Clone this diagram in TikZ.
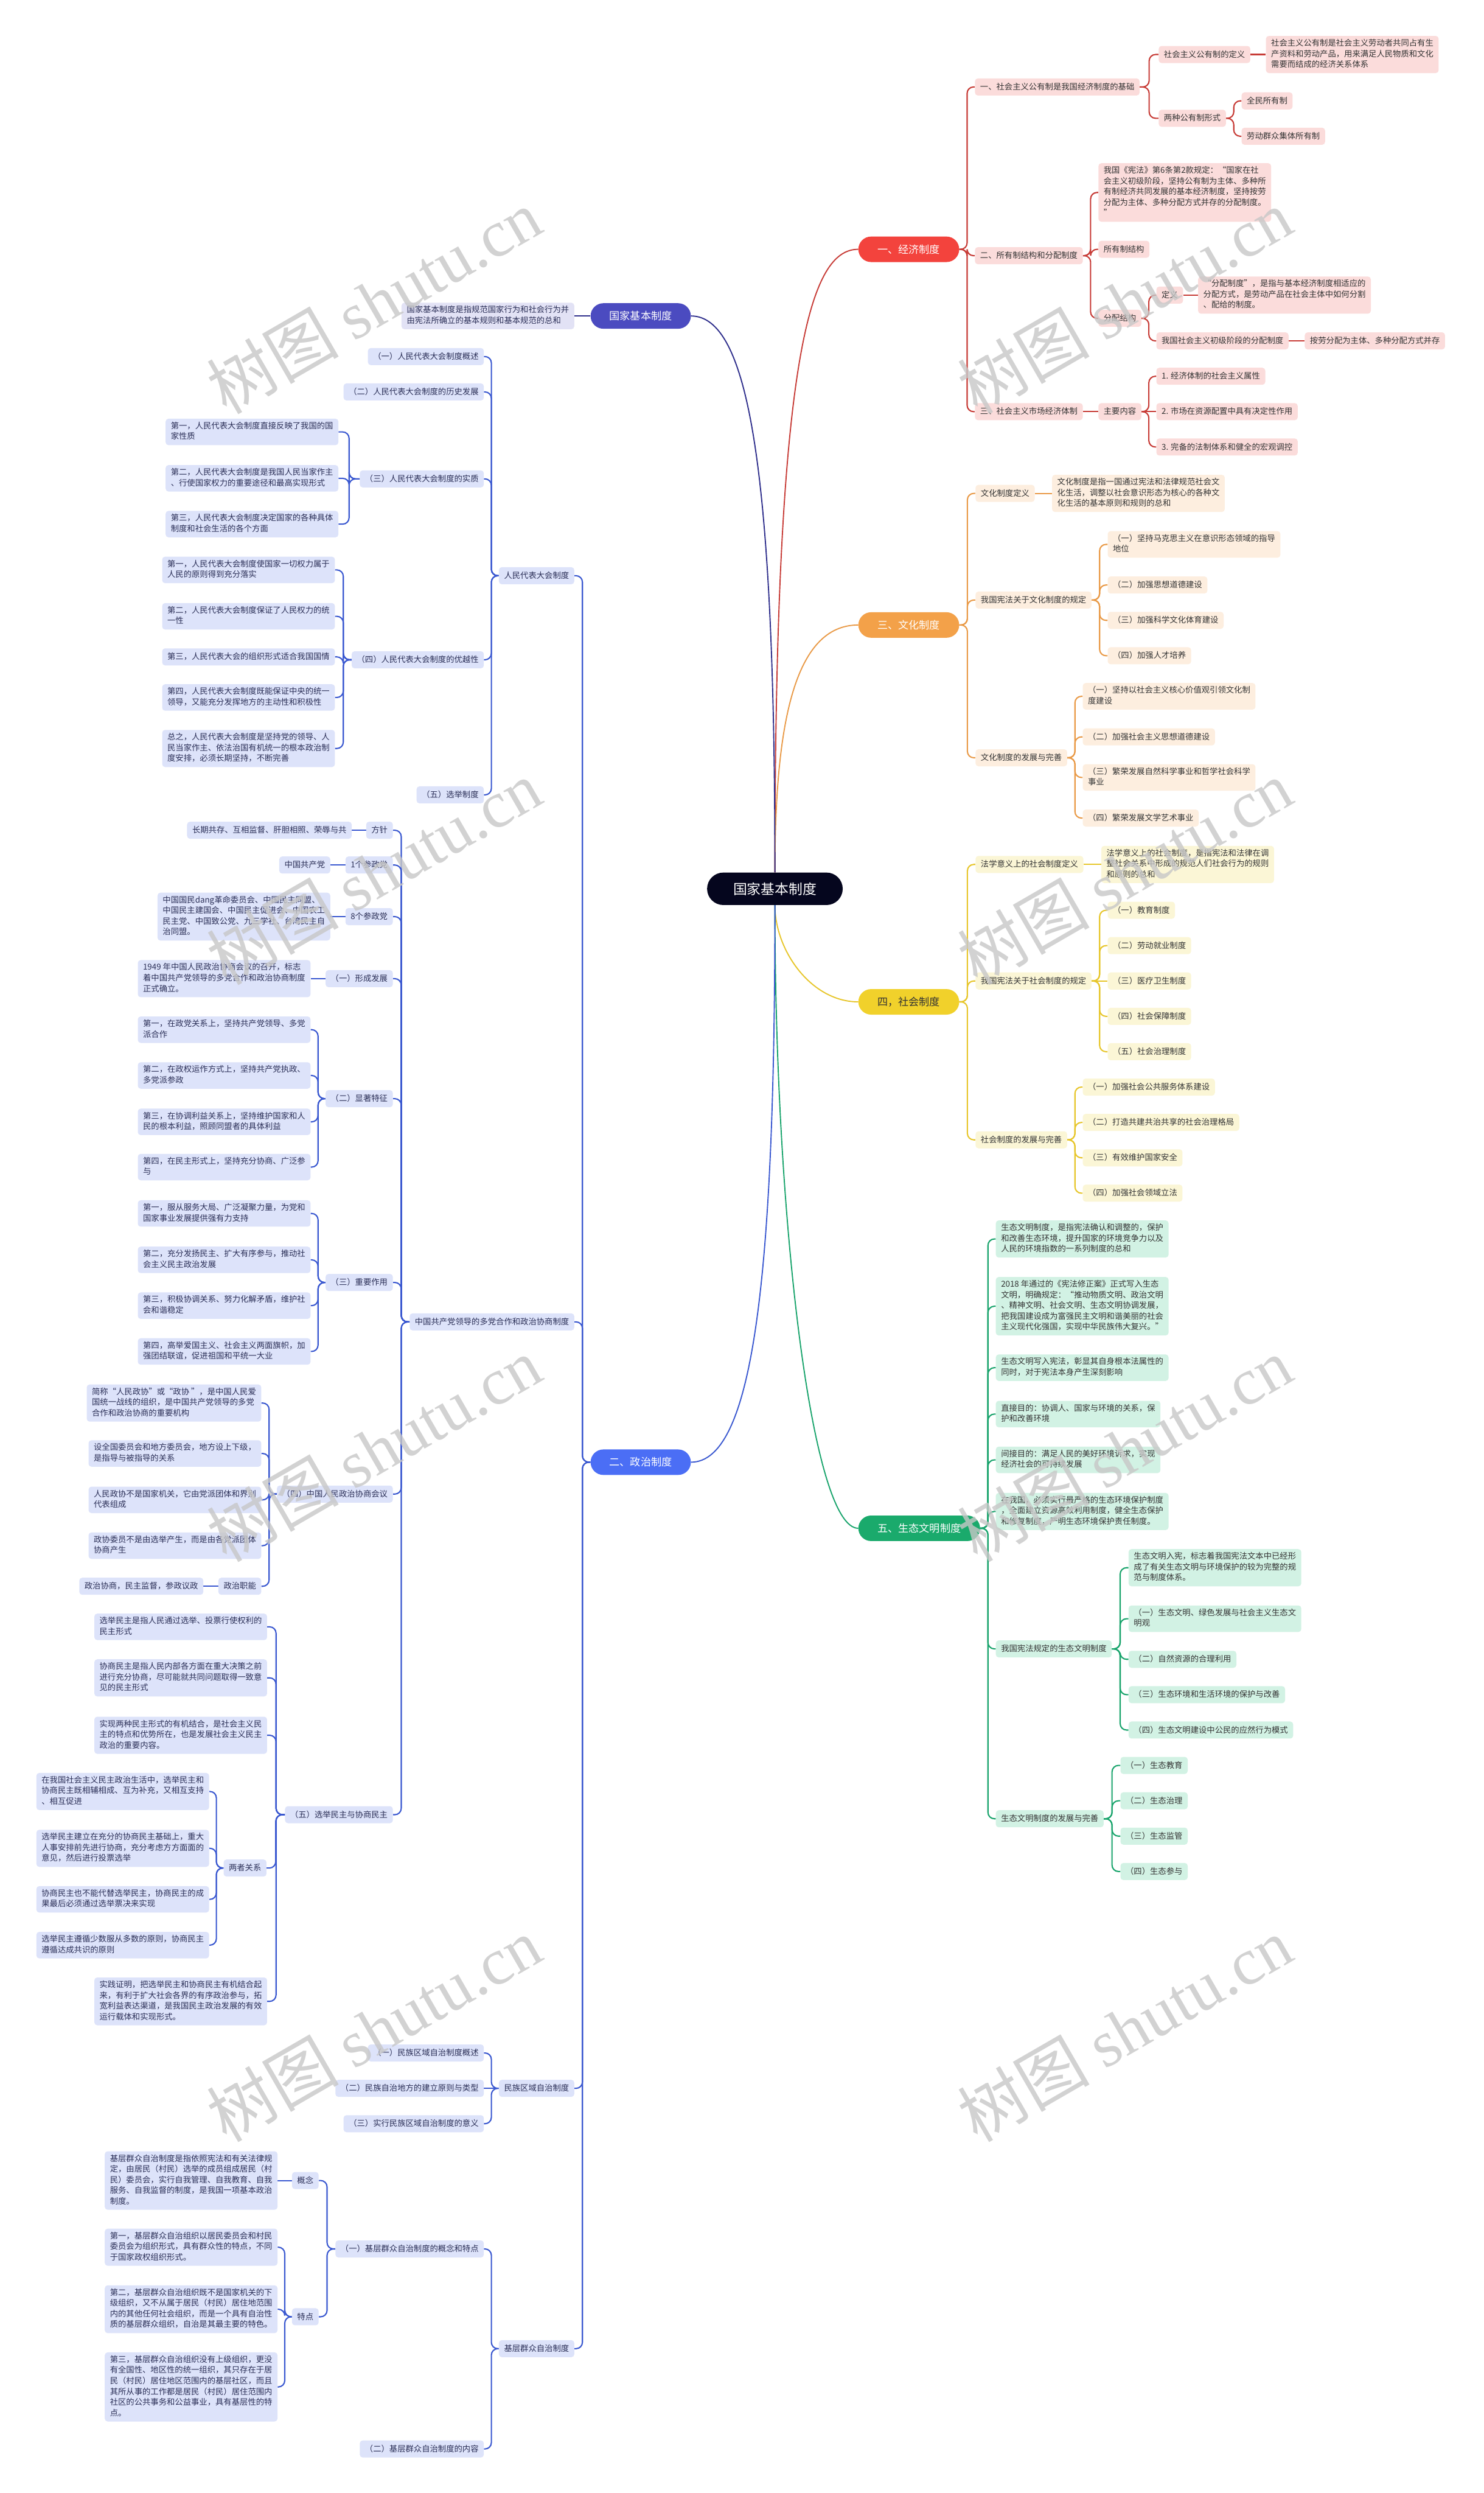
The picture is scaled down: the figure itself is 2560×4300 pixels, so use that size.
\documentclass[tikz,border=0pt]{standalone}
\usepackage{fontspec}
\setmainfont{Noto Sans CJK SC}
\newfontfamily\wmserif{Liberation Serif}
\usetikzlibrary{calc}
\pgfdeclarelayer{bg}
\pgfsetlayers{bg,main}
\definecolor{rootC}{HTML}{05061E}
\definecolor{redN}{HTML}{F3433D}
\definecolor{redL}{HTML}{C73B36}
\definecolor{redF}{HTML}{FBDCDB}
\definecolor{orN}{HTML}{F3A149}
\definecolor{orL}{HTML}{E99A47}
\definecolor{orF}{HTML}{FDEEDF}
\definecolor{yeN}{HTML}{F1D12B}
\definecolor{yeL}{HTML}{E7C62B}
\definecolor{yeF}{HTML}{FBF6D6}
\definecolor{grN}{HTML}{1AAA6C}
\definecolor{grL}{HTML}{19A46C}
\definecolor{grF}{HTML}{D2F2E4}
\definecolor{blN}{HTML}{4B6EF5}
\definecolor{blL}{HTML}{3A58D0}
\definecolor{blF}{HTML}{DDE3FA}
\definecolor{puN}{HTML}{4B4BC0}
\definecolor{puL}{HTML}{2F2F8C}
\definecolor{puF}{HTML}{E2E2F5}
\definecolor{txt}{HTML}{333333}
\definecolor{btxt}{HTML}{2B2F57}
\newcommand{\zs}{\rule[-4.4pt]{0pt}{18.4pt}}
\newcommand{\conR}[3]{\draw[#1] (#2.east) -- ($(#2.east)!0.5!(#3.west |- #2.east)$) |- (#3.west);}
\newcommand{\conL}[3]{\draw[#1] (#2.west) -- ($(#2.west)!0.5!(#3.east |- #2.west)$) |- (#3.east);}
\newcommand{\conSR}[3]{\draw[#1] (#2.east) -- (#3.west);}
\newcommand{\conSL}[3]{\draw[#1] (#2.west) -- (#3.east);}
\tikzset{
 box/.style={rounded corners=5pt, inner xsep=9pt, inner ysep=5.5pt, align=left, text=txt,
   font=\fontsize{14pt}{18.4pt}\selectfont, execute at begin node=\zs, execute at end node=\zs},
 rbox/.style={box, fill=redF, anchor=west},
 obox/.style={box, fill=orF, anchor=west},
 ybox/.style={box, fill=yeF, anchor=west},
 gbox/.style={box, fill=grF, anchor=west},
 bbox/.style={box, fill=blF, anchor=east, text=btxt},
 pbox/.style={box, fill=puF, anchor=east, text=btxt},
 topnode/.style={rounded corners=22pt, minimum height=44pt, inner sep=0pt, text=white,
   font=\fontsize{18pt}{22pt}\selectfont},
 rootnode/.style={rounded corners=28pt, minimum height=56pt, minimum width=234pt, inner sep=0pt,
   fill=rootC, text=white, font=\fontsize{24pt}{28pt}\selectfont},
 lnk/.style={line width=2.2pt, rounded corners=11pt},
 rl/.style={lnk, draw=redL}, ol/.style={lnk, draw=orL}, yl/.style={lnk, draw=yeL},
 gl/.style={lnk, draw=grL}, bll/.style={lnk, draw=blL}, pl/.style={lnk, draw=puL},
 curve/.style={line width=2pt},
 wm/.style={rotate=30, text=black!22, opacity=0.8, inner sep=0pt,
   font=\fontsize{114pt}{114pt}\selectfont}
}
\begin{document}
\begin{tikzpicture}[x=1pt,y=-1pt]
\useasboundingbox (0,0) rectangle (2560,4300);
\begin{pgfonlayer}{bg}
\fill[white] (0,0) rectangle (2560,4300);
\end{pgfonlayer}

% root and top level
\node[rootnode] (root) at (1337,1533) {国家基本制度};
\node[topnode, fill=redN, minimum width=174pt] (econ) at (1568,430) {一、经济制度};
\node[topnode, fill=orN, minimum width=174pt] (cult) at (1568,1078) {三、文化制度};
\node[topnode, fill=yeN, minimum width=174pt, text=txt] (soc) at (1568,1728) {四，社会制度};
\node[topnode, fill=grN, minimum width=210pt] (eco) at (1586,2636) {五、生态文明制度};
\node[topnode, fill=puN, minimum width=173pt] (basic) at (1105.5,545) {国家基本制度};
\node[topnode, fill=blN, minimum width=173pt] (pol) at (1105.5,2522) {二、政治制度};

% purple
\node[pbox] (basicdef) at (991,545) {国家基本制度是指规范国家行为和社会行为并\\由宪法所确立的基本规则和基本规范的总和};

% red
\node[rbox] (e1) at (1682,150) {一、社会主义公有制是我国经济制度的基础};
\node[rbox] (e1a) at (1999,94) {社会主义公有制的定义};
\node[rbox] (e1a1) at (2184,94) {社会主义公有制是社会主义劳动者共同占有生\\产资料和劳动产品，用来满足人民物质和文化\\需要而结成的经济关系体系};
\node[rbox] (e1b) at (1999,204) {两种公有制形式};
\node[rbox] (e1b1) at (2142,174) {全民所有制};
\node[rbox] (e1b2) at (2142,235) {劳动群众集体所有制};
\node[rbox] (e2) at (1682,441) {二、所有制结构和分配制度};
\node[rbox] (e2a) at (1895,332) {我国《宪法》第6条第2款规定：“国家在社\\会主义初级阶段，坚持公有制为主体、多种所\\有制经济共同发展的基本经济制度，坚持按劳\\分配为主体、多种分配方式并存的分配制度。\\”};
\node[rbox] (e2b) at (1895,430) {所有制结构};
\node[rbox] (e2c) at (1895,549) {分配结构};
\node[rbox] (e2c1) at (1995,509) {定义};
\node[rbox] (e2c1a) at (2067,509) {“分配制度”，是指与基本经济制度相适应的\\分配方式，是劳动产品在社会主体中如何分割\\、配给的制度。};
\node[rbox] (e2c2) at (1995,588) {我国社会主义初级阶段的分配制度};
\node[rbox] (e2c2a) at (2251,588) {按劳分配为主体、多种分配方式并存};
\node[rbox] (e3) at (1682,710) {三、社会主义市场经济体制};
\node[rbox] (e3a) at (1895,710) {主要内容};
\node[rbox] (e3a1) at (1995,649) {1. 经济体制的社会主义属性};
\node[rbox] (e3a2) at (1995,710) {2. 市场在资源配置中具有决定性作用};
\node[rbox] (e3a3) at (1995,771) {3. 完备的法制体系和健全的宏观调控};

% orange
\node[obox] (c1) at (1683,851) {文化制度定义};
\node[obox] (c1a) at (1815,851) {文化制度是指一国通过宪法和法律规范社会文\\化生活，调整以社会意识形态为核心的各种文\\化生活的基本原则和规则的总和};
\node[obox] (c2) at (1683,1035) {我国宪法关于文化制度的规定};
\node[obox] (c2a) at (1911,939) {（一）坚持马克思主义在意识形态领域的指导\\地位};
\node[obox] (c2b) at (1911,1009) {（二）加强思想道德建设};
\node[obox] (c2c) at (1911,1070) {（三）加强科学文化体育建设};
\node[obox] (c2d) at (1911,1131) {（四）加强人才培养};
\node[obox] (c3) at (1683,1307) {文化制度的发展与完善};
\node[obox] (c3a) at (1868,1201) {（一）坚持以社会主义核心价值观引领文化制\\度建设};
\node[obox] (c3b) at (1868,1271) {（二）加强社会主义思想道德建设};
\node[obox] (c3c) at (1868,1341) {（三）繁荣发展自然科学事业和哲学社会科学\\事业};
\node[obox] (c3d) at (1868,1411) {（四）繁荣发展文学艺术事业};

% yellow
\node[ybox] (s1) at (1683,1491) {法学意义上的社会制度定义};
\node[ybox] (s1a) at (1900,1491) {法学意义上的社会制度，是指宪法和法律在调\\整社会关系中形成的规范人们社会行为的规则\\和原则的总和};
\node[ybox] (s2) at (1683,1692) {我国宪法关于社会制度的规定};
\node[ybox] (s2a) at (1911,1570) {（一）教育制度};
\node[ybox] (s2b) at (1911,1631) {（二）劳动就业制度};
\node[ybox] (s2c) at (1911,1692) {（三）医疗卫生制度};
\node[ybox] (s2d) at (1911,1753) {（四）社会保障制度};
\node[ybox] (s2e) at (1911,1814) {（五）社会治理制度};
\node[ybox] (s3) at (1683,1966) {社会制度的发展与完善};
\node[ybox] (s3a) at (1868,1875) {（一）加强社会公共服务体系建设};
\node[ybox] (s3b) at (1868,1936) {（二）打造共建共治共享的社会治理格局};
\node[ybox] (s3c) at (1868,1997) {（三）有效维护国家安全};
\node[ybox] (s3d) at (1868,2058) {（四）加强社会领域立法};

% green
\node[gbox] (g1) at (1718,2137) {生态文明制度，是指宪法确认和调整的，保护\\和改善生态环境，提升国家的环境竞争力以及\\人民的环境指数的一系列制度的总和};
\node[gbox] (g2) at (1718,2253) {2018 年通过的《宪法修正案》正式写入生态\\文明，明确规定：“推动物质文明、政治文明\\、精神文明、社会文明、生态文明协调发展，\\把我国建设成为富强民主文明和谐美丽的社会\\主义现代化强国，实现中华民族伟大复兴。”};
\node[gbox] (g3) at (1718,2359) {生态文明写入宪法，彰显其自身根本法属性的\\同时，对于宪法本身产生深刻影响};
\node[gbox] (g4) at (1718,2439) {直接目的：协调人、国家与环境的关系，保\\护和改善环境};
\node[gbox] (g5) at (1718,2518) {间接目的：满足人民的美好环境诉求，实现\\经济社会的可持续发展};
\node[gbox] (g6) at (1718,2607) {在我国，必须实行最严格的生态环境保护制度\\，全面建立资源高效利用制度，健全生态保护\\和修复制度，严明生态环境保护责任制度。};
\node[gbox] (g7) at (1718,2844) {我国宪法规定的生态文明制度};
\node[gbox] (g7a) at (1947,2704) {生态文明入宪，标志着我国宪法文本中已经形\\成了有关生态文明与环境保护的较为完整的规\\范与制度体系。};
\node[gbox] (g7b) at (1947,2792) {（一）生态文明、绿色发展与社会主义生态文\\明观};
\node[gbox] (g7c) at (1947,2862) {（二）自然资源的合理利用};
\node[gbox] (g7d) at (1947,2923) {（三）生态环境和生活环境的保护与改善};
\node[gbox] (g7e) at (1947,2984) {（四）生态文明建设中公民的应然行为模式};
\node[gbox] (g8) at (1718,3137) {生态文明制度的发展与完善};
\node[gbox] (g8a) at (1933,3045) {（一）生态教育};
\node[gbox] (g8b) at (1933,3106) {（二）生态治理};
\node[gbox] (g8c) at (1933,3167) {（三）生态监管};
\node[gbox] (g8d) at (1933,3228) {（四）生态参与};

% blue: level 1
\node[bbox] (p1) at (991,993) {人民代表大会制度};
\node[bbox] (p2) at (991,2280) {中国共产党领导的多党合作和政治协商制度};
\node[bbox] (p3) at (991,3602) {民族区域自治制度};
\node[bbox] (p4) at (991,4051) {基层群众自治制度};

% p1
\node[bbox] (p1a) at (835,615) {（一）人民代表大会制度概述};
\node[bbox] (p1b) at (835,676) {（二）人民代表大会制度的历史发展};
\node[bbox] (p1c) at (835,826) {（三）人民代表大会制度的实质};
\node[bbox] (p1d) at (835,1138) {（四）人民代表大会制度的优越性};
\node[bbox] (p1e) at (835,1371) {（五）选举制度};
\node[bbox] (p1c1) at (584,745) {第一，人民代表大会制度直接反映了我国的国\\家性质};
\node[bbox] (p1c2) at (584,825) {第二，人民代表大会制度是我国人民当家作主\\、行使国家权力的重要途径和最高实现形式};
\node[bbox] (p1c3) at (584,904) {第三，人民代表大会制度决定国家的各种具体\\制度和社会生活的各个方面};
\node[bbox] (p1d1) at (578,983) {第一，人民代表大会制度使国家一切权力属于\\人民的原则得到充分落实};
\node[bbox] (p1d2) at (578,1063) {第二，人民代表大会制度保证了人民权力的统\\一性};
\node[bbox] (p1d3) at (578,1133) {第三，人民代表大会的组织形式适合我国国情};
\node[bbox] (p1d4) at (578,1203) {第四，人民代表大会制度既能保证中央的统一\\领导，又能充分发挥地方的主动性和积极性};
\node[bbox] (p1d5) at (578,1291) {总之，人民代表大会制度是坚持党的领导、人\\民当家作主、依法治国有机统一的根本政治制\\度安排，必须长期坚持，不断完善};

% p2
\node[bbox] (p2a) at (678,1432) {方针};
\node[bbox] (p2a1) at (607,1432) {长期共存、互相监督、肝胆相照、荣辱与共};
\node[bbox] (p2b) at (678,1492) {1个参政党};
\node[bbox] (p2b1) at (570,1492) {中国共产党};
\node[bbox] (p2c) at (678,1581) {8个参政党};
\node[bbox] (p2c1) at (570,1581) {中国国民dang革命委员会、中国民主同盟、\\中国民主建国会、中国民主促进会、中国农工\\民主党、中国致公党、九三学社、台湾民主自\\治同盟。};
\node[bbox] (p2d) at (678,1688) {（一）形成发展};
\node[bbox] (p2d1) at (536,1688) {1949 年中国人民政治协商会议的召开，标志\\着中国共产党领导的多党合作和政治协商制度\\正式确立。};
\node[bbox] (p2e) at (678,1895) {（二）显著特征};
\node[bbox] (p2e1) at (536,1776) {第一，在政党关系上，坚持共产党领导、多党\\派合作};
\node[bbox] (p2e2) at (536,1855) {第二，在政权运作方式上，坚持共产党执政、\\多党派参政};
\node[bbox] (p2e3) at (536,1935) {第三，在协调利益关系上，坚持维护国家和人\\民的根本利益，照顾同盟者的具体利益};
\node[bbox] (p2e4) at (536,2013) {第四，在民主形式上，坚持充分协商、广泛参\\与};
\node[bbox] (p2f) at (678,2212) {（三）重要作用};
\node[bbox] (p2f1) at (536,2093) {第一，服从服务大局、广泛凝聚力量，为党和\\国家事业发展提供强有力支持};
\node[bbox] (p2f2) at (536,2173) {第二，充分发扬民主、扩大有序参与，推动社\\会主义民主政治发展};
\node[bbox] (p2f3) at (536,2252) {第三，积极协调关系、努力化解矛盾，维护社\\会和谐稳定};
\node[bbox] (p2f4) at (536,2331) {第四，高举爱国主义、社会主义两面旗帜，加\\强团结联谊，促进祖国和平统一大业};
\node[bbox] (p2g) at (678,2577) {（四）中国人民政治协商会议};
\node[bbox] (p2g1) at (451,2420) {简称“人民政协”或“政协 ”，是中国人民爱\\国统一战线的组织，是中国共产党领导的多党\\合作和政治协商的重要机构};
\node[bbox] (p2g2) at (451,2507) {设全国委员会和地方委员会，地方设上下级，\\是指导与被指导的关系};
\node[bbox] (p2g3) at (451,2587) {人民政协不是国家机关，它由党派团体和界别\\代表组成};
\node[bbox] (p2g4) at (451,2666) {政协委员不是由选举产生，而是由各党派团体\\协商产生};
\node[bbox] (p2g5) at (451,2736) {政治职能};
\node[bbox] (p2g51) at (351,2736) {政治协商，民主监督，参政议政};
\node[bbox] (p2h) at (678,3130) {（五）选举民主与协商民主};
\node[bbox] (p2h1) at (461,2806) {选举民主是指人民通过选举、投票行使权利的\\民主形式};
\node[bbox] (p2h2) at (461,2894) {协商民主是指人民内部各方面在重大决策之前\\进行充分协商，尽可能就共同问题取得一致意\\见的民主形式};
\node[bbox] (p2h3) at (461,2993) {实现两种民主形式的有机结合，是社会主义民\\主的特点和优势所在，也是发展社会主义民主\\政治的重要内容。};
\node[bbox] (p2h4) at (460,3222) {两者关系};
\node[bbox] (p2h41) at (361,3090) {在我国社会主义民主政治生活中，选举民主和\\协商民主既相辅相成、互为补充，又相互支持\\、相互促进};
\node[bbox] (p2h42) at (361,3188) {选举民主建立在充分的协商民主基础上，重大\\人事安排前先进行协商，充分考虑方方面面的\\意见，然后进行投票选举};
\node[bbox] (p2h43) at (361,3276) {协商民主也不能代替选举民主，协商民主的成\\果最后必须通过选举票决来实现};
\node[bbox] (p2h44) at (361,3355) {选举民主遵循少数服从多数的原则，协商民主\\遵循达成共识的原则};
\node[bbox] (p2h5) at (461,3452) {实践证明，把选举民主和协商民主有机结合起\\来，有利于扩大社会各界的有序政治参与，拓\\宽利益表达渠道，是我国民主政治发展的有效\\运行载体和实现形式。};

% p3
\node[bbox] (p3a) at (835,3541) {（一）民族区域自治制度概述};
\node[bbox] (p3b) at (835,3602) {（二）民族自治地方的建立原则与类型};
\node[bbox] (p3c) at (835,3663) {（三）实行民族区域自治制度的意义};

% p4
\node[bbox] (p4a) at (835,3879) {（一）基层群众自治制度的概念和特点};
\node[bbox] (p4b) at (835,4224) {（二）基层群众自治制度的内容};
\node[bbox] (p4a1) at (550,3761) {概念};
\node[bbox] (p4a11) at (479,3761) {基层群众自治制度是指依照宪法和有关法律规\\定，由居民（村民）选举的成员组成居民（村\\民）委员会，实行自我管理、自我教育、自我\\服务、自我监督的制度，是我国一项基本政治\\制度。};
\node[bbox] (p4a2) at (550,3996) {特点};
\node[bbox] (p4a21) at (479,3876) {第一，基层群众自治组织以居民委员会和村民\\委员会为组织形式，具有群众性的特点，不同\\于国家政权组织形式。};
\node[bbox] (p4a22) at (479,3983) {第二，基层群众自治组织既不是国家机关的下\\级组织，又不从属于居民（村民）居住地范围\\内的其他任何社会组织，而是一个具有自治性\\质的基层群众组织，自治是其最主要的特色。};
\node[bbox] (p4a23) at (479,4117) {第三，基层群众自治组织没有上级组织，更没\\有全国性、地区性的统一组织，其只存在于居\\民（村民）居住地区范围内的基层社区，而且\\其所从事的工作都是居民（村民）居住范围内\\社区的公共事务和公益事业，具有基层性的特\\点。};

\begin{pgfonlayer}{bg}
% root curves
\draw[curve, draw=redL] (root.north) .. controls (1337,600) and (1400,430) .. (econ.west);
\draw[curve, draw=orL] (root.north) .. controls (1337,1250) and (1370,1078) .. (cult.west);
\draw[curve, draw=puL] (basic.east) .. controls (1290,545) and (1337,800) .. (root.north);
\draw[curve, draw=yeL] (root.south) .. controls (1337,1640) and (1400,1728) .. (soc.west);
\draw[curve, draw=grL] (root.south) .. controls (1337,2100) and (1400,2636) .. (eco.west);
\draw[curve, draw=blL] (root.south) .. controls (1337,2200) and (1300,2522) .. (pol.east);
% purple
\conSL{pl}{basic}{basicdef}
% red
\conR{rl}{econ}{e1} \conR{rl}{econ}{e2} \conR{rl}{econ}{e3}
\conR{rl}{e1}{e1a} \conR{rl}{e1}{e1b}
\conSR{rl}{e1a}{e1a1}
\conR{rl}{e1b}{e1b1} \conR{rl}{e1b}{e1b2}
\conR{rl}{e2}{e2a} \conR{rl}{e2}{e2b} \conR{rl}{e2}{e2c}
\conR{rl}{e2c}{e2c1} \conR{rl}{e2c}{e2c2}
\conSR{rl}{e2c1}{e2c1a} \conSR{rl}{e2c2}{e2c2a}
\conSR{rl}{e3}{e3a}
\conR{rl}{e3a}{e3a1} \conSR{rl}{e3a}{e3a2} \conR{rl}{e3a}{e3a3}
% orange
\conR{ol}{cult}{c1} \conR{ol}{cult}{c2} \conR{ol}{cult}{c3}
\conSR{ol}{c1}{c1a}
\conR{ol}{c2}{c2a} \conR{ol}{c2}{c2b} \conR{ol}{c2}{c2c} \conR{ol}{c2}{c2d}
\conR{ol}{c3}{c3a} \conR{ol}{c3}{c3b} \conR{ol}{c3}{c3c} \conR{ol}{c3}{c3d}
% yellow
\conR{yl}{soc}{s1} \conR{yl}{soc}{s2} \conR{yl}{soc}{s3}
\conSR{yl}{s1}{s1a}
\conR{yl}{s2}{s2a} \conR{yl}{s2}{s2b} \conSR{yl}{s2}{s2c} \conR{yl}{s2}{s2d} \conR{yl}{s2}{s2e}
\conR{yl}{s3}{s3a} \conR{yl}{s3}{s3b} \conR{yl}{s3}{s3c} \conR{yl}{s3}{s3d}
% green
\conR{gl}{eco}{g1} \conR{gl}{eco}{g2} \conR{gl}{eco}{g3} \conR{gl}{eco}{g4}
\conR{gl}{eco}{g5} \conR{gl}{eco}{g6} \conR{gl}{eco}{g7} \conR{gl}{eco}{g8}
\conR{gl}{g7}{g7a} \conR{gl}{g7}{g7b} \conR{gl}{g7}{g7c} \conR{gl}{g7}{g7d} \conR{gl}{g7}{g7e}
\conR{gl}{g8}{g8a} \conR{gl}{g8}{g8b} \conR{gl}{g8}{g8c} \conR{gl}{g8}{g8d}
% blue
\conL{bll}{pol}{p1} \conL{bll}{pol}{p2} \conL{bll}{pol}{p3} \conL{bll}{pol}{p4}
\conL{bll}{p1}{p1a} \conL{bll}{p1}{p1b} \conL{bll}{p1}{p1c} \conL{bll}{p1}{p1d} \conL{bll}{p1}{p1e}
\conL{bll}{p1c}{p1c1} \conL{bll}{p1c}{p1c2} \conL{bll}{p1c}{p1c3}
\conL{bll}{p1d}{p1d1} \conL{bll}{p1d}{p1d2} \conL{bll}{p1d}{p1d3} \conL{bll}{p1d}{p1d4} \conL{bll}{p1d}{p1d5}
\conL{bll}{p2}{p2a} \conL{bll}{p2}{p2b} \conL{bll}{p2}{p2c} \conL{bll}{p2}{p2d}
\conL{bll}{p2}{p2e} \conL{bll}{p2}{p2f} \conL{bll}{p2}{p2g} \conL{bll}{p2}{p2h}
\conSL{bll}{p2a}{p2a1} \conSL{bll}{p2b}{p2b1} \conSL{bll}{p2c}{p2c1} \conSL{bll}{p2d}{p2d1}
\conL{bll}{p2e}{p2e1} \conL{bll}{p2e}{p2e2} \conL{bll}{p2e}{p2e3} \conL{bll}{p2e}{p2e4}
\conL{bll}{p2f}{p2f1} \conL{bll}{p2f}{p2f2} \conL{bll}{p2f}{p2f3} \conL{bll}{p2f}{p2f4}
\conL{bll}{p2g}{p2g1} \conL{bll}{p2g}{p2g2} \conL{bll}{p2g}{p2g3} \conL{bll}{p2g}{p2g4} \conL{bll}{p2g}{p2g5}
\conSL{bll}{p2g5}{p2g51}
\conL{bll}{p2h}{p2h1} \conL{bll}{p2h}{p2h2} \conL{bll}{p2h}{p2h3} \conL{bll}{p2h}{p2h4} \conL{bll}{p2h}{p2h5}
\conL{bll}{p2h4}{p2h41} \conL{bll}{p2h4}{p2h42} \conL{bll}{p2h4}{p2h43} \conL{bll}{p2h4}{p2h44}
\conL{bll}{p3}{p3a} \conSL{bll}{p3}{p3b} \conL{bll}{p3}{p3c}
\conL{bll}{p4}{p4a} \conL{bll}{p4}{p4b}
\conL{bll}{p4a}{p4a1} \conL{bll}{p4a}{p4a2}
\conSL{bll}{p4a1}{p4a11}
\conL{bll}{p4a2}{p4a21} \conL{bll}{p4a2}{p4a22} \conL{bll}{p4a2}{p4a23}
\end{pgfonlayer}

% watermarks
\foreach \wx/\wy [count=\i] in {645/520,1940/520,645/1505,1940/1505,645/2500,1940/2500,645/3500,1940/3500}
  \node[wm] (wm\i) at (\wx,\wy) {树图 {\wmserif shutu.cn}};
\end{tikzpicture}
\end{document}
